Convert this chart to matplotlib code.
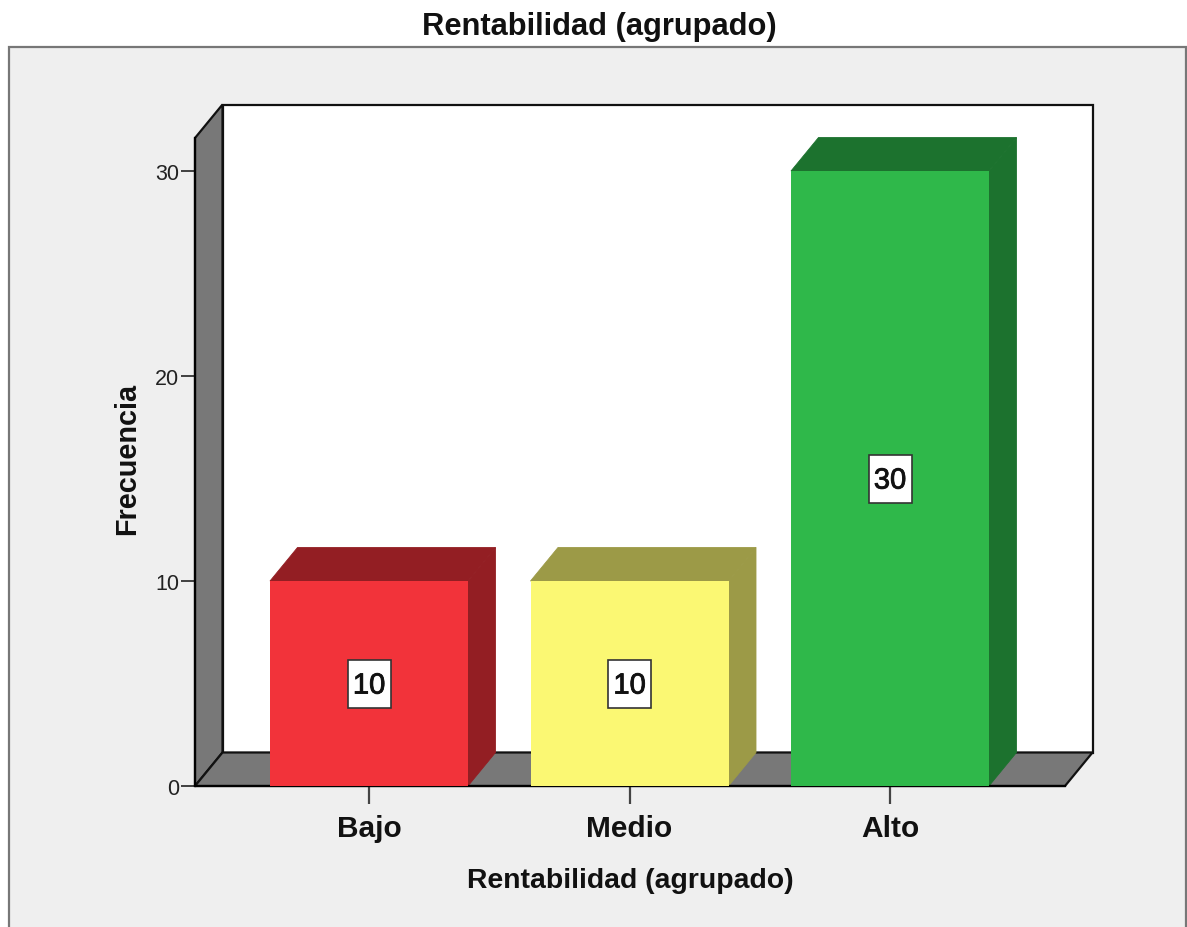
import matplotlib
matplotlib.use('Agg')
import matplotlib.pyplot as plt
import matplotlib.patheffects as pe
from matplotlib.patches import Polygon, Rectangle

plt.rcParams['font.family'] = ['Liberation Sans', 'DejaVu Sans']

categories = ['Bajo', 'Medio', 'Alto']
values = [10, 10, 30]
y_ticks = [0, 10, 20, 30]
front_colors = ['#f2333a', '#fbf873', '#2fb84a']
dark_colors = ['#931e23', '#9c9a47', '#1c722e']

W, H = 1187, 928
fig = plt.figure(figsize=(W / 100, H / 100), dpi=100, facecolor='white')

# grey panel behind the chart, runs off the bottom of the image
fig.add_artist(Rectangle((9.5 / W, -0.05), (1186 - 9.5) / W, 1.05 - 48 / H,
                         transform=fig.transFigure, facecolor='#efefef',
                         edgecolor='#777777', linewidth=1.6, zorder=-1))

# axes box is the front plane of the 3d box
left, right, bottom, top = 195, 1065, 787, 139
ax = fig.add_axes([left / W, 1 - bottom / H, (right - left) / W, (bottom - top) / H])
ax.patch.set_visible(False)

px_x = 260.5  # pixels per category
px_y = 20.5   # pixels per count
ax.set_xlim((left - 369) / px_x, (right - 369) / px_x)
ax.set_ylim(0, (bottom - top) / px_y)
x0, x1 = ax.get_xlim()
y0, y1 = ax.get_ylim()

dx = 27.5 / px_x
dy = 33.5 / px_y
bar_width = 198 / px_x

# back wall, left wall, floor
ax.add_patch(Polygon([(x0 + dx, y0 + dy), (x1 + dx, y0 + dy), (x1 + dx, y1 + dy), (x0 + dx, y1 + dy)],
                     facecolor='white', edgecolor='#111111', linewidth=1.6, clip_on=False, zorder=1))
ax.add_patch(Polygon([(x0, y0), (x0 + dx, y0 + dy), (x0 + dx, y1 + dy), (x0, y1)],
                     facecolor='#787878', edgecolor='#111111', linewidth=1.6, clip_on=False, zorder=1.1))
ax.add_patch(Polygon([(x0, y0), (x1, y0), (x1 + dx, y0 + dy), (x0 + dx, y0 + dy)],
                     facecolor='#787878', edgecolor='#111111', linewidth=1.6, clip_on=False, zorder=1.1))

positions = list(range(len(categories)))
for i, v in zip(positions, values):
    xl = i - bar_width / 2
    xr = i + bar_width / 2
    ax.add_patch(Polygon([(xl, v), (xr, v), (xr + dx, v + dy), (xl + dx, v + dy)],
                         facecolor=dark_colors[i], edgecolor=dark_colors[i], linewidth=0.6,
                         clip_on=False, zorder=2))
    ax.add_patch(Polygon([(xr, 0), (xr + dx, dy), (xr + dx, v + dy), (xr, v)],
                         facecolor=dark_colors[i], edgecolor=dark_colors[i], linewidth=0.6,
                         clip_on=False, zorder=2))
ax.bar(positions, values, width=bar_width, color=front_colors, zorder=3)

box_w = 43 / px_x
box_h = 48 / px_y
for i, v in zip(positions, values):
    ax.add_patch(Rectangle((i - box_w / 2, v / 2 - box_h / 2), box_w, box_h, facecolor='white',
                           edgecolor='#333333', linewidth=1.2, zorder=4))
    # slight stroke, the digits are heavier than regular in the original
    ax.annotate(str(v), (i, v / 2), xytext=(0, -1.5), textcoords='offset points', ha='center', va='center',
                fontsize=21, color='#111111', zorder=5,
                path_effects=[pe.withStroke(linewidth=0.6, foreground='#111111')])

for side in ['top', 'right']:
    ax.spines[side].set_visible(False)
ax.spines['left'].set_linewidth(1.6)
ax.spines['bottom'].set_linewidth(1.6)
ax.spines['left'].set_zorder(2.5)
ax.spines['bottom'].set_zorder(2.5)

ax.set_yticks(y_ticks)
ax.set_xticks(positions)
ax.set_xticklabels(categories, fontsize=21.5, fontweight='bold', color='#111111')
ax.tick_params(axis='y', length=10, width=1.2, pad=1.5, labelsize=15.5, color='#222222', labelcolor='#222222')
ax.tick_params(axis='x', length=13, width=1.6, pad=7.5, color='#444444')
ax.set_xlabel('Rentabilidad (agrupado)', fontsize=20.4, fontweight='bold', color='#111111', labelpad=18)
ax.set_ylabel('Frecuencia', fontsize=20.8, fontweight='bold', color='#111111', labelpad=10, y=0.506)

fig.text(599.5 / W, 1 - 27 / H, 'Rentabilidad (agrupado)', ha='center', va='center',
         fontsize=22.2, fontweight='bold', color='#111111')

fig.savefig('out.png', dpi=100)
